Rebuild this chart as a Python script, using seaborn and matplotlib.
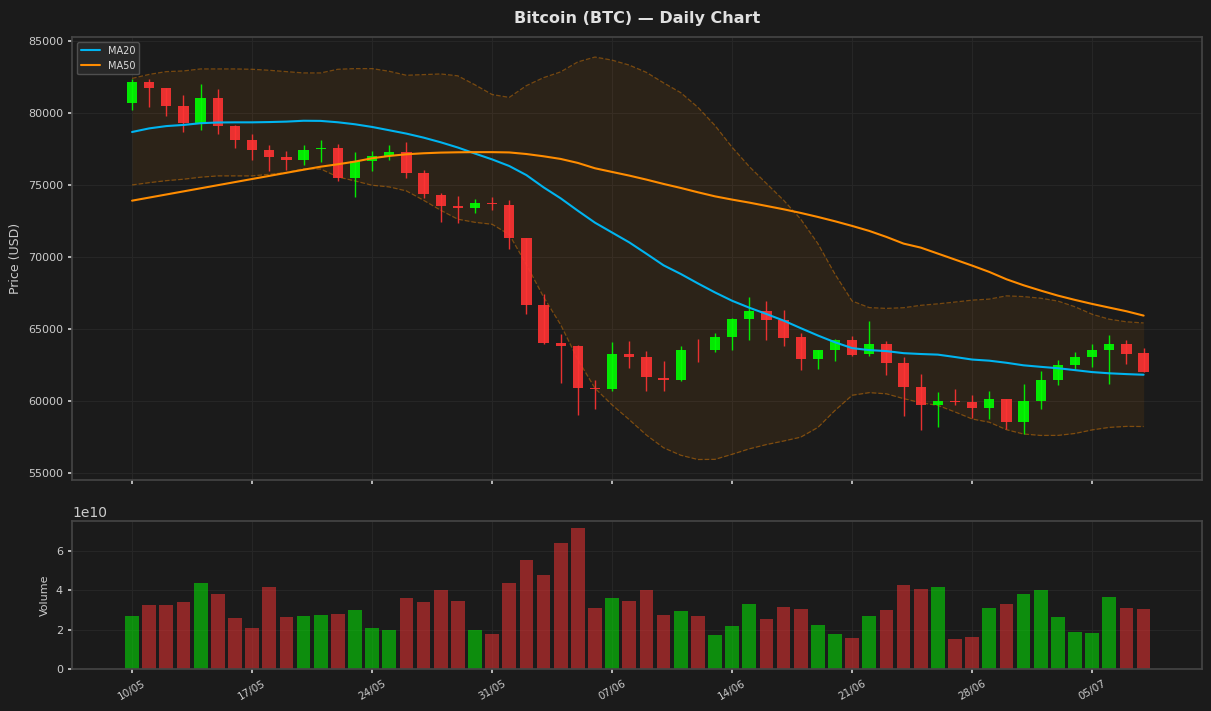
import matplotlib
matplotlib.use("Agg")
import matplotlib.pyplot as plt
import matplotlib.dates as mdates
import numpy as np
import pandas as pd
import seaborn as sns

dates = pd.date_range("2024-05-10", periods=60, freq="D")

open_ = [80741, 82176, 81759, 80509, 79351, 81065, 79120, 78148, 77453, 76967,
         76782, 77540, 77592, 75532, 76712, 77036, 77314, 75856, 74328, 73541,
         73448, 73772, 73633, 71342, 66689, 64049, 63841, 60924, 60877, 63285,
         63077, 61619, 61503, 63570, 63586, 64489, 65740, 66273, 65647, 64466,
         62961, 63586, 64257, 63308, 63979, 62660, 60994, 59767, 60022, 59952,
         59559, 60160, 58586, 60045, 61503, 62545, 63100, 63586, 63980, 63354]
high = [82407, 82384, 81759, 81273, 82037, 81690, 79190, 78565, 77824, 77384,
        77824, 78148, 77870, 77314, 77384, 77801, 78009, 76064, 74467, 74259,
        74050, 74189, 73981, 71342, 67430, 64674, 63910, 61503, 64118, 64211,
        63493, 62799, 63841, 64350, 64767, 65786, 67245, 66966, 66341, 64744,
        63563, 64327, 64535, 65578, 64188, 63077, 61896, 60646, 60855, 60461,
        60716, 60160, 61202, 62105, 62869, 63424, 63980, 64605, 64257, 63702]
low = [80254, 80463, 79838, 78726, 78865, 78588, 77615, 76782, 76018, 76087,
       76435, 76643, 75300, 74212, 76018, 76759, 75532, 74143, 72476, 72407,
       73101, 73309, 70601, 66087, 64003, 61296, 59072, 59489, 60692, 62336,
       60739, 60739, 61434, 62730, 63401, 63586, 64253, 64253, 63864, 62197,
       62267, 62800, 63146, 63169, 61828, 59003, 58031, 58239, 59767, 58864,
       58795, 58077, 57706, 59489, 61156, 62244, 62406, 61226, 62614, 62058]
close = [82176, 81782, 80532, 79351, 81065, 79143, 78171, 77477, 76990, 76782,
         77453, 77600, 75532, 76689, 77036, 77314, 75879, 74421, 73587, 73448,
         73772, 73680, 71365, 66713, 64072, 63864, 60947, 60877, 63285, 63100,
         61711, 61503, 63563, 63570, 64466, 65717, 66273, 65670, 64420, 62961,
         63563, 64234, 63239, 63979, 62683, 61016, 59767, 60022, 59975, 59559,
         60160, 58586, 60022, 61480, 62522, 63077, 63563, 63980, 63308, 62058]

# volume in units of 1e10
volume = [2.70, 3.26, 3.26, 3.41, 4.38, 3.82, 2.60, 2.09, 4.17, 2.65,
          2.70, 2.75, 2.80, 3.01, 2.09, 1.99, 3.61, 3.41, 4.02, 3.46,
          1.99, 1.79, 4.38, 5.54, 4.78, 6.40, 7.16, 3.11, 3.61, 3.46,
          4.02, 2.75, 2.96, 2.70, 1.74, 2.20, 3.31, 2.55, 3.16, 3.06,
          2.25, 1.79, 1.59, 2.70, 3.01, 4.27, 4.07, 4.17, 1.54, 1.64,
          3.11, 3.31, 3.82, 4.02, 2.65, 1.89, 1.84, 3.67, 3.11, 3.06]

ma50 = [73930, 74145, 74360, 74575, 74790, 75005, 75220, 75435, 75650, 75865,
        76080, 76290, 76458, 76643, 76874, 77036, 77152, 77222, 77268, 77290,
        77300, 77300, 77280, 77170, 77013, 76828, 76551, 76180, 75925, 75671,
        75393, 75092, 74814, 74513, 74230, 74004, 73795, 73564, 73332, 73078,
        72800, 72499, 72175, 71828, 71411, 70948, 70670, 70254, 69837, 69420,
        68980, 68471, 68054, 67684, 67336, 67036, 66758, 66503, 66249, 65948]

# first 19 days of the 20-day window (history before the chart starts)
ma20_head = [78700, 78950, 79110, 79190, 79310, 79360, 79370, 79370, 79390, 79420,
             79480, 79470, 79375, 79236, 79050, 78820, 78588, 78310, 77985]
bb_upper_head = [82420, 82700, 82893, 82940, 83079, 83079, 83079, 83055, 82986, 82893,
                 82801, 82801, 83055, 83102, 83102, 82917, 82639, 82685, 82731]
bb_lower_head = [75020, 75180, 75320, 75420, 75560, 75650, 75650, 75650, 75760, 75880,
                 76150, 76130, 75578, 75300, 75000, 74884, 74606, 73958, 73263]

bg = "#1b1b1b"
txt = "#cccccc"
green = "#00ff00"
red = "#ff3333"

sns.set_theme(style="darkgrid", rc={
    "figure.facecolor": bg, "axes.facecolor": bg, "axes.edgecolor": "#444444",
    "grid.color": "#272727", "grid.linewidth": 0.7,
    "text.color": txt, "axes.labelcolor": txt,
    "xtick.color": txt, "ytick.color": txt,
    "xtick.bottom": True, "ytick.left": True,
})
plt.rcParams['font.family'] = ['DejaVu Sans']

df = pd.DataFrame({"date": dates, "open": open_, "high": high, "low": low,
                   "close": close, "volume": np.array(volume) * 1e10})
df["ma20"] = df["close"].rolling(20).mean()
std20 = df["close"].rolling(20).std()
df["upper"] = df["ma20"] + 2 * std20
df["lower"] = df["ma20"] - 2 * std20
df.loc[:18, "ma20"] = ma20_head
df.loc[:18, "upper"] = bb_upper_head
df.loc[:18, "lower"] = bb_lower_head
df["ma50"] = ma50

up = df["close"] > df["open"]
cols = np.where(up, green, red)

fig = plt.figure(figsize=(12.11, 7.11), dpi=100)
ax = fig.add_axes([0.0595, 0.325, 0.933, 0.623])
axv = fig.add_axes([0.0595, 0.059, 0.933, 0.208], sharex=ax)

# bollinger band
ax.fill_between(df["date"], df["lower"], df["upper"], color="#ff8c00", alpha=0.08, linewidth=0)
ax.plot(df["date"], df["upper"], color="#ff8c00", alpha=0.4, linewidth=0.9, linestyle="--")
ax.plot(df["date"], df["lower"], color="#ff8c00", alpha=0.4, linewidth=0.9, linestyle="--")

# candles
ax.vlines(df["date"], df["low"], df["high"], colors=cols, linewidth=1, alpha=0.9, zorder=3)
body_bottom = np.minimum(df["open"], df["close"])
body_h = np.abs(df["close"] - df["open"])
ax.bar(df["date"], body_h, bottom=body_bottom, width=0.6, color=cols, alpha=0.9,
       linewidth=0, zorder=4)

sns.lineplot(x=df["date"], y=df["ma20"], ax=ax, color="#00b4f0", linewidth=1.5, label="MA20", zorder=5)
sns.lineplot(x=df["date"], y=df["ma50"], ax=ax, color="#ff8c00", linewidth=1.5, label="MA50", zorder=5)

ax.set_title("Bitcoin (BTC) \u2014 Daily Chart", color="#e0e0e0", fontsize=11.5,
             fontweight="bold", pad=10)
ax.set_ylabel("Price (USD)", fontsize=9)
ax.set_xlabel("")
ax.set_ylim(54535, 85299)
ax.set_yticks([55000, 60000, 65000, 70000, 75000, 80000, 85000])
ax.tick_params(axis="y", labelsize=8, length=3)
ax.tick_params(axis="x", labelbottom=False, length=3)
leg = ax.legend(loc="upper left", fontsize=7, facecolor="#2a2a2a", edgecolor="#555555",
                labelcolor="#dddddd", framealpha=0.9)

# volume
axv.bar(df["date"], df["volume"], width=0.8, color=cols, alpha=0.5, linewidth=0)
axv.set_ylabel("Volume", fontsize=8)
axv.set_ylim(0, 7.53e10)
axv.set_yticks([0, 2e10, 4e10, 6e10])
axv.tick_params(axis="y", labelsize=8, length=3)
axv.tick_params(axis="x", labelsize=7.5, length=3)
axv.yaxis.get_offset_text().set_color(txt)
axv.yaxis.get_offset_text().set_fontsize(10)

x0 = mdates.date2num(dates[0])
ax.set_xlim(x0 - 3.5, x0 + 62.4)
axv.set_xticks(dates[::7])
axv.xaxis.set_major_formatter(mdates.DateFormatter("%d/%m"))
plt.setp(axv.get_xticklabels(), rotation=30)

for a in (ax, axv):
    for s in a.spines.values():
        s.set_color("#444444")

fig.savefig("out.png", dpi=100, facecolor=bg)
